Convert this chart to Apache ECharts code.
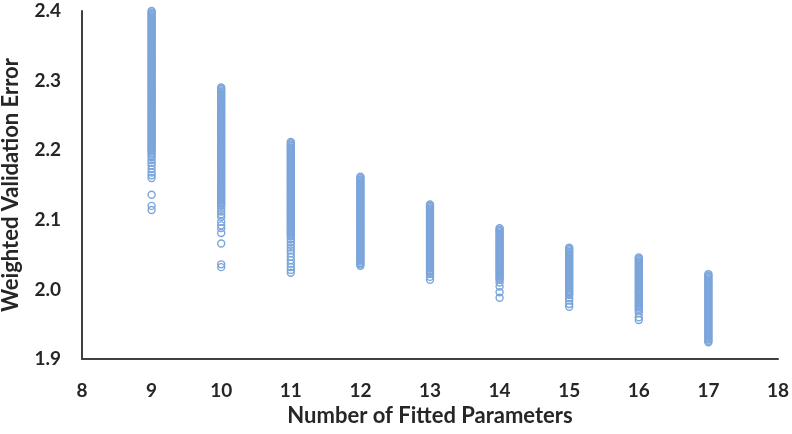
<!DOCTYPE html>
<html><head><meta charset="utf-8">
<script src="https://cdn.jsdelivr.net/npm/echarts@6/dist/echarts.min.js"></script>
<style>html,body{margin:0;padding:0;background:#fff}#c{width:792px;height:434px}</style>
</head><body><div id="c"></div>
<script>
const xTicks = [8,9,10,11,12,13,14,15,16,17,18];
const yTicks = [1.9,2.0,2.1,2.2,2.3,2.4];
const xTitle = "Number of Fitted Parameters";
const yTitle = "Weighted Validation Error";

const p9 = [2.400,2.398,2.396,2.394,2.392,2.390,2.388,2.386,2.384,2.382,2.380,2.378,2.376,2.374,2.372,2.370,2.368,2.366,2.364,2.362,2.360,2.358,2.356,2.354,2.352,2.350,2.348,2.346,2.344,2.342,2.340,2.338,2.336,2.334,2.332,2.330,2.328,2.326,2.324,2.322,2.320,2.318,2.316,2.314,2.312,2.310,2.308,2.306,2.304,2.302,2.300,2.298,2.296,2.294,2.292,2.290,2.288,2.286,2.284,2.282,2.280,2.278,2.276,2.274,2.272,2.270,2.268,2.266,2.264,2.262,2.260,2.258,2.256,2.254,2.252,2.250,2.248,2.246,2.244,2.242,2.240,2.238,2.236,2.234,2.232,2.230,2.228,2.226,2.224,2.222,2.220,2.218,2.216,2.214,2.212,2.210,2.208,2.206,2.204,2.202,2.200,2.198,2.196,2.193,2.190,2.186,2.182,2.178,2.173,2.168,2.164,2.160,2.136,2.120,2.114];
const p10 = [2.290,2.288,2.286,2.284,2.282,2.280,2.278,2.276,2.274,2.272,2.270,2.268,2.266,2.264,2.262,2.260,2.258,2.256,2.254,2.252,2.250,2.248,2.246,2.244,2.242,2.240,2.238,2.236,2.234,2.232,2.230,2.228,2.226,2.224,2.222,2.220,2.218,2.216,2.214,2.212,2.210,2.208,2.206,2.204,2.202,2.200,2.198,2.196,2.194,2.192,2.190,2.188,2.186,2.184,2.182,2.180,2.178,2.176,2.174,2.172,2.170,2.168,2.166,2.164,2.162,2.160,2.158,2.156,2.154,2.152,2.150,2.148,2.146,2.144,2.142,2.140,2.138,2.136,2.134,2.132,2.130,2.128,2.126,2.124,2.122,2.120,2.116,2.112,2.108,2.104,2.097,2.092,2.088,2.081,2.066,2.036,2.032];
const p11 = [2.212,2.210,2.208,2.206,2.204,2.202,2.200,2.198,2.196,2.194,2.192,2.190,2.188,2.186,2.184,2.182,2.180,2.178,2.176,2.174,2.172,2.170,2.168,2.166,2.164,2.162,2.160,2.158,2.156,2.154,2.152,2.150,2.148,2.146,2.144,2.142,2.140,2.138,2.136,2.134,2.132,2.130,2.128,2.126,2.124,2.122,2.120,2.118,2.116,2.114,2.112,2.110,2.108,2.106,2.104,2.102,2.100,2.098,2.096,2.094,2.092,2.090,2.088,2.086,2.084,2.082,2.080,2.078,2.076,2.072,2.068,2.064,2.060,2.056,2.052,2.047,2.042,2.037,2.032,2.028,2.024];
const p12 = [2.162,2.160,2.158,2.156,2.154,2.152,2.150,2.148,2.146,2.144,2.142,2.140,2.138,2.136,2.134,2.132,2.130,2.128,2.126,2.124,2.122,2.120,2.118,2.116,2.114,2.112,2.110,2.108,2.106,2.104,2.102,2.100,2.098,2.096,2.094,2.092,2.090,2.088,2.086,2.084,2.082,2.080,2.078,2.076,2.074,2.072,2.070,2.068,2.066,2.064,2.062,2.060,2.058,2.056,2.054,2.052,2.050,2.048,2.046,2.044,2.042,2.040,2.038,2.036,2.034];
const p13 = [2.122,2.120,2.118,2.116,2.114,2.112,2.110,2.108,2.106,2.104,2.102,2.100,2.098,2.096,2.094,2.092,2.090,2.088,2.086,2.084,2.082,2.080,2.078,2.076,2.074,2.072,2.070,2.068,2.066,2.064,2.062,2.060,2.058,2.056,2.054,2.052,2.050,2.048,2.046,2.044,2.042,2.040,2.038,2.036,2.034,2.032,2.030,2.028,2.026,2.024,2.022,2.018,2.014];
const p14 = [2.088,2.086,2.084,2.082,2.080,2.078,2.076,2.074,2.072,2.070,2.068,2.066,2.064,2.062,2.060,2.058,2.056,2.054,2.052,2.050,2.048,2.046,2.044,2.042,2.040,2.038,2.036,2.034,2.032,2.030,2.028,2.026,2.024,2.022,2.020,2.018,2.016,2.014,2.010,2.004,1.996,1.988];
const p15 = [2.060,2.058,2.056,2.054,2.052,2.050,2.048,2.046,2.044,2.042,2.040,2.038,2.036,2.034,2.032,2.030,2.028,2.026,2.024,2.022,2.020,2.018,2.016,2.014,2.012,2.010,2.008,2.006,2.004,2.002,2.000,1.998,1.996,1.994,1.992,1.988,1.984,1.979,1.975];
const p16 = [2.046,2.044,2.042,2.040,2.038,2.036,2.034,2.032,2.030,2.028,2.026,2.024,2.022,2.020,2.018,2.016,2.014,2.012,2.010,2.008,2.006,2.004,2.002,2.000,1.998,1.996,1.994,1.992,1.990,1.988,1.986,1.984,1.982,1.980,1.978,1.976,1.974,1.972,1.970,1.966,1.960,1.956];
const p17 = [2.022,2.020,2.018,2.016,2.014,2.012,2.010,2.008,2.006,2.004,2.002,2.000,1.998,1.996,1.994,1.992,1.990,1.988,1.986,1.984,1.982,1.980,1.978,1.976,1.974,1.972,1.970,1.968,1.966,1.964,1.962,1.960,1.958,1.956,1.954,1.952,1.950,1.948,1.946,1.944,1.942,1.940,1.938,1.936,1.934,1.932,1.930,1.928,1.926,1.924];

const groups = [[9,p9],[10,p10],[11,p11],[12,p12],[13,p13],[14,p14],[15,p15],[16,p16],[17,p17]];
const data = [];
groups.forEach(([x, arr]) => arr.forEach(v => data.push([x, v])));

const font = 'Lato, "Open Sans", sans-serif';
const chart = echarts.init(document.getElementById('c'), null, {renderer: 'canvas'});
chart.setOption({
  animation: false,
  grid: {left: 82, right: 14, top: 11, bottom: 75, containLabel: false, outerBoundsMode: 'none'},
  xAxis: {
    type: 'value', min: xTicks[0], max: xTicks[xTicks.length-1], interval: 1,
    name: xTitle, nameLocation: 'middle', nameGap: 44,
    nameTextStyle: {fontFamily: font, fontWeight: 'bold', fontSize: 22, color: '#262626'},
    axisLine: {show: true, lineStyle: {color: '#404040', width: 2}},
    axisTick: {show: false}, splitLine: {show: false},
    axisLabel: {fontFamily: font, fontWeight: 'bold', fontSize: 19, color: '#262626', margin: 22}
  },
  yAxis: {
    type: 'value', min: yTicks[0], max: yTicks[yTicks.length-1], interval: 0.1,
    name: yTitle, nameLocation: 'middle', nameGap: 60, nameRotate: 90,
    nameTextStyle: {fontFamily: font, fontWeight: 'bold', fontSize: 22, color: '#262626'},
    axisLine: {show: true, lineStyle: {color: '#404040', width: 2}},
    axisTick: {show: false}, splitLine: {show: false},
    axisLabel: {fontFamily: font, fontWeight: 'bold', fontSize: 19, color: '#262626', margin: 21,
      formatter: v => v.toFixed(1)}
  },
  series: [{
    type: 'scatter', data: data, symbol: 'circle', symbolSize: 7,
    itemStyle: {color: 'rgba(255,255,255,0)', borderColor: '#7BA5DB', borderWidth: 1.4, opacity: 1},
    emphasis: {disabled: true}
  }]
});
</script></body></html>
